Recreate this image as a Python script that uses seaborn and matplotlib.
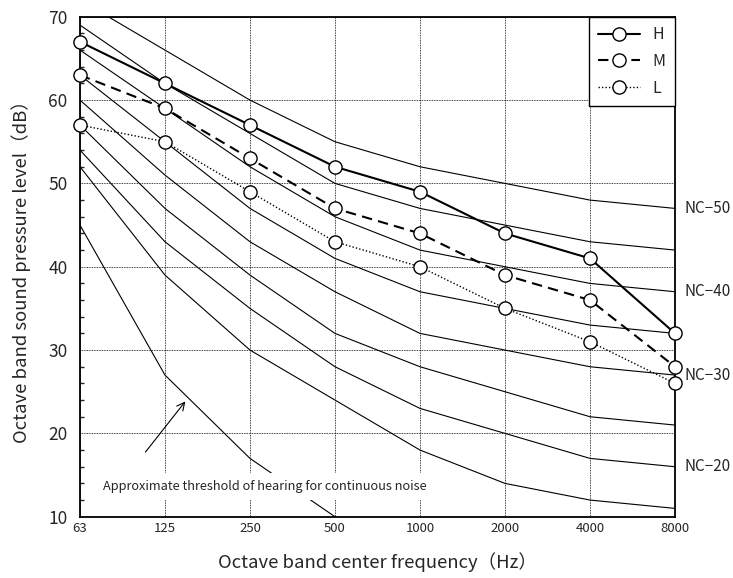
import numpy as np
import pandas as pd
import matplotlib
matplotlib.use("Agg")
import matplotlib.pyplot as plt
from matplotlib.ticker import MultipleLocator
import seaborn as sns

# --- Data ---
freq_labels = ["63", "125", "250", "500", "1000", "2000", "4000", "8000"]

nc_15 = [52, 39, 30, 24, 18, 14, 12, 11]
nc_20 = [54, 43, 35, 28, 23, 20, 17, 16]
nc_25 = [57, 47, 39, 32, 28, 25, 22, 21]
nc_30 = [60, 51, 43, 37, 32, 30, 28, 27]
nc_35 = [63, 55, 47, 41, 37, 35, 33, 32]
nc_40 = [66, 59, 52, 46, 42, 40, 38, 37]
nc_45 = [69, 62, 56, 50, 47, 45, 43, 42]
nc_50 = [72, 66, 60, 55, 52, 50, 48, 47]
nc_names = ["NC-15", "NC-20", "NC-25", "NC-30", "NC-35", "NC-40", "NC-45", "NC-50"]

threshold = [45, 27, 17, 10]

level_h = [67, 62, 57, 52, 49, 44, 41, 32]
level_m = [63, 59, 53, 47, 44, 39, 36, 28]
level_l = [57, 55, 49, 43, 40, 35, 31, 26]

# --- Style ---
sns.set_theme(style="white")
plt.rcParams["font.family"] = ["Noto Sans CJK JP", "DejaVu Sans"]

fig = plt.figure(figsize=(7.33, 5.78), dpi=100)
ax = fig.add_axes([0.1091, 0.106, 0.8118, 0.865])

pos = np.arange(len(freq_labels))

# NC curves
nc_df = pd.DataFrame({
    "pos": np.tile(pos, len(nc_names)),
    "level": np.concatenate([nc_15, nc_20, nc_25, nc_30, nc_35, nc_40, nc_45, nc_50]),
    "curve": np.repeat(nc_names, len(pos)),
})
sns.lineplot(data=nc_df, x="pos", y="level", hue="curve", units="curve", estimator=None,
             palette={n: "black" for n in nc_names}, linewidth=0.8, legend=False, ax=ax)

# threshold of hearing
sns.lineplot(x=pos[:len(threshold)], y=threshold, color="black", linewidth=0.8, ax=ax)

# measured spectra
marker_kw = dict(marker="o", markersize=9.5, markerfacecolor="white", markeredgecolor="black",
                 markeredgewidth=1.0, color="black", clip_on=False, zorder=5)
sns.lineplot(x=pos, y=level_h, linewidth=1.5, linestyle="-", label="H", ax=ax, **marker_kw)
sns.lineplot(x=pos, y=level_m, linewidth=1.5, dashes=(5, 3), label="M", ax=ax, **marker_kw)
sns.lineplot(x=pos, y=level_l, linewidth=1.0, linestyle=(0, (1, 1.5)), label="L", ax=ax, **marker_kw)

# NC labels on the right
for name, vals in [("NC−50", nc_50), ("NC−40", nc_40), ("NC−30", nc_30), ("NC−20", nc_20)]:
    ax.annotate(name, xy=(pos[-1], vals[-1]), xytext=(7, 0), textcoords="offset points",
                ha="left", va="center", fontsize=11, annotation_clip=False)

# threshold note
ax.text(0.27, 13.6, "Approximate threshold of hearing for continuous noise", fontsize=9.2,
        ha="left", va="center", zorder=6,
        bbox=dict(facecolor="white", edgecolor="none", pad=5))
ax.annotate("", xy=(1.26, 24.1), xytext=(0.75, 17.5),
            arrowprops=dict(arrowstyle="->", color="black", lw=0.8, mutation_scale=14))

# axes
ax.set_xlim(0, 7)
ax.set_ylim(10, 70)
ax.set_xticks(pos)
ax.set_xticklabels(freq_labels, fontsize=9.5)
ax.yaxis.set_major_locator(MultipleLocator(10))
ax.yaxis.set_minor_locator(MultipleLocator(2))
ax.tick_params(axis="y", which="major", direction="in", length=5, labelsize=12.5, pad=9)
ax.tick_params(axis="y", which="minor", direction="in", length=3, left=True)
ax.tick_params(axis="x", direction="in", length=0, pad=4)
ax.grid(True, which="major", color="black", linestyle=(0, (1, 1)), linewidth=0.6)
for s in ax.spines.values():
    s.set_color("black")
    s.set_linewidth(1.3)

ax.set_xlabel("Octave band center frequency（Hz）", fontsize=13.3, labelpad=12)
ax.set_ylabel("Octave band sound pressure level（dB）", fontsize=13.3, labelpad=12)

leg = ax.legend(loc="upper right", borderaxespad=0, fancybox=False, framealpha=1,
                edgecolor="black", fontsize=11.5, handlelength=2.6, labelspacing=0.6,
                borderpad=0.6)
leg.get_frame().set_linewidth(1.0)

fig.savefig("out.png", dpi=100)
